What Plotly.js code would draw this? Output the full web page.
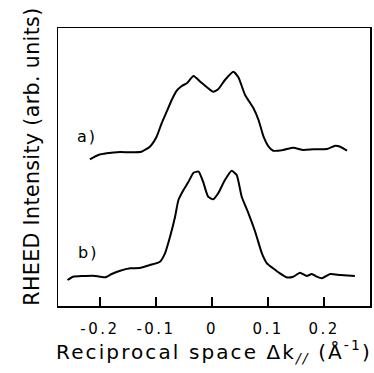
<!DOCTYPE html>
<html>
<head>
<meta charset="utf-8">
<script src="https://cdn.plot.ly/plotly-3.0.1.min.js"></script>
<style>
html, body { margin: 0; padding: 0; background: #fff; }
#chart { width: 374px; height: 373px; }
.xtick text { letter-spacing: 2.5px; }
.annotation-text { letter-spacing: 2px; }
.annotation:last-of-type .annotation-text { letter-spacing: 0.4px; }
.xtitle { letter-spacing: 2.1px; }
</style>
</head>
<body>
<div id="chart"></div>
<script>
// Curve a) : momentum transfer (1/Å) and intensity (arb. units)
const kA = [-0.218, -0.203, -0.188, -0.164, -0.146, -0.126, -0.111, -0.099, -0.090, -0.081,
            -0.072, -0.063, -0.054, -0.045, -0.033, -0.021, -0.009, 0.002, 0.011, 0.023,
            0.038, 0.047, 0.059, 0.074, 0.083, 0.092, 0.101, 0.109, 0.127, 0.145,
            0.163, 0.181, 0.205, 0.220, 0.229, 0.241];
const iA = [146.7, 151, 152.7, 154, 153.7, 154.3, 159.3, 169.3, 182.7, 194.3,
            206, 215.3, 220, 222.7, 230, 224.3, 218.7, 214.3, 216.7, 226,
            234.3, 228.7, 211, 197.7, 186, 169.3, 159.3, 155.3, 156, 158.3,
            156, 156.7, 157, 160.3, 159.3, 155.3];

// Curve b)
const kB = [-0.258, -0.248, -0.230, -0.212, -0.191, -0.179, -0.164, -0.146, -0.129, -0.111,
            -0.093, -0.084, -0.075, -0.066, -0.060, -0.051, -0.042, -0.033, -0.024, -0.016,
            -0.007, 0.002, 0.011, 0.023, 0.035, 0.044, 0.053, 0.065, 0.077, 0.089,
            0.098, 0.109, 0.121, 0.133, 0.145, 0.157, 0.169, 0.178, 0.187, 0.196,
            0.211, 0.229, 0.255];
const iB = [26, 29.3, 30, 30.3, 28.7, 32, 35.3, 37.7, 38, 41,
            44.3, 52.7, 69.3, 89.3, 106, 116, 124.3, 133.3, 134.3, 124.3,
            109.3, 106.7, 112.7, 126, 135.3, 131, 109.3, 92.7, 74.3, 52.7,
            42.7, 37.7, 32.7, 28.7, 29.3, 33.3, 30, 32, 29.3, 27.7,
            32, 31, 30];

const tickVals = [-0.2, -0.1, 0, 0.1, 0.2];
const tickText = ['-0.2', '-0.1', '0', '0.1', '0.2'];
const curveLabels = ['a)', 'b)'];
const labelPos = [[-0.223, 170], [-0.221, 54]];
const yTitle = 'RHEED Intensity (arb. units)';

const lineStyle = {color: '#000', width: 2, shape: 'spline', smoothing: 0.5};
const traces = [
  {x: kA, y: iA, type: 'scatter', mode: 'lines', line: lineStyle, hoverinfo: 'skip'},
  {x: kB, y: iB, type: 'scatter', mode: 'lines', line: lineStyle, hoverinfo: 'skip'}
];

const font = 'DejaVu Sans, Arial, sans-serif';
const annotations = curveLabels.map((t, i) => ({
  x: labelPos[i][0], y: labelPos[i][1], xref: 'x', yref: 'y',
  text: t, showarrow: false, font: {family: font, size: 16, color: '#000'}
}));
annotations.push({
  x: -0.128, y: 0.536, xref: 'paper', yref: 'paper', textangle: -90,
  text: yTitle, showarrow: false, font: {family: font, size: 20.5, color: '#000'}
});

const layout = {
  width: 374, height: 373,
  margin: {l: 58, r: 4, t: 28, b: 67},
  paper_bgcolor: '#fff', plot_bgcolor: '#fff',
  showlegend: false,
  font: {family: font, color: '#000'},
  xaxis: {
    range: [-0.275, 0.282],
    tickvals: tickVals, ticktext: tickText,
    ticks: 'inside', ticklen: 9, tickwidth: 1.4, tickcolor: '#000',
    showline: true, mirror: true, linecolor: '#000', linewidth: 1.5,
    showgrid: false, zeroline: false,
    tickfont: {family: font, size: 15, color: '#000'},
    ticklabelstandoff: 8,
    title: {text: 'Reciprocal space Δk<sub><i>//</i></sub> (Å<sup>-1</sup>)',
            font: {family: font, size: 20, color: '#000'}, standoff: 5},
    automargin: false
  },
  yaxis: {
    range: [0, 278],
    showticklabels: false, ticks: '',
    showline: true, mirror: true, linecolor: '#000', linewidth: 1.5,
    showgrid: false, zeroline: false,
    automargin: false
  },
  annotations: annotations
};

Plotly.newPlot('chart', traces, layout, {staticPlot: true, displayModeBar: false});
</script>
</body>
</html>
